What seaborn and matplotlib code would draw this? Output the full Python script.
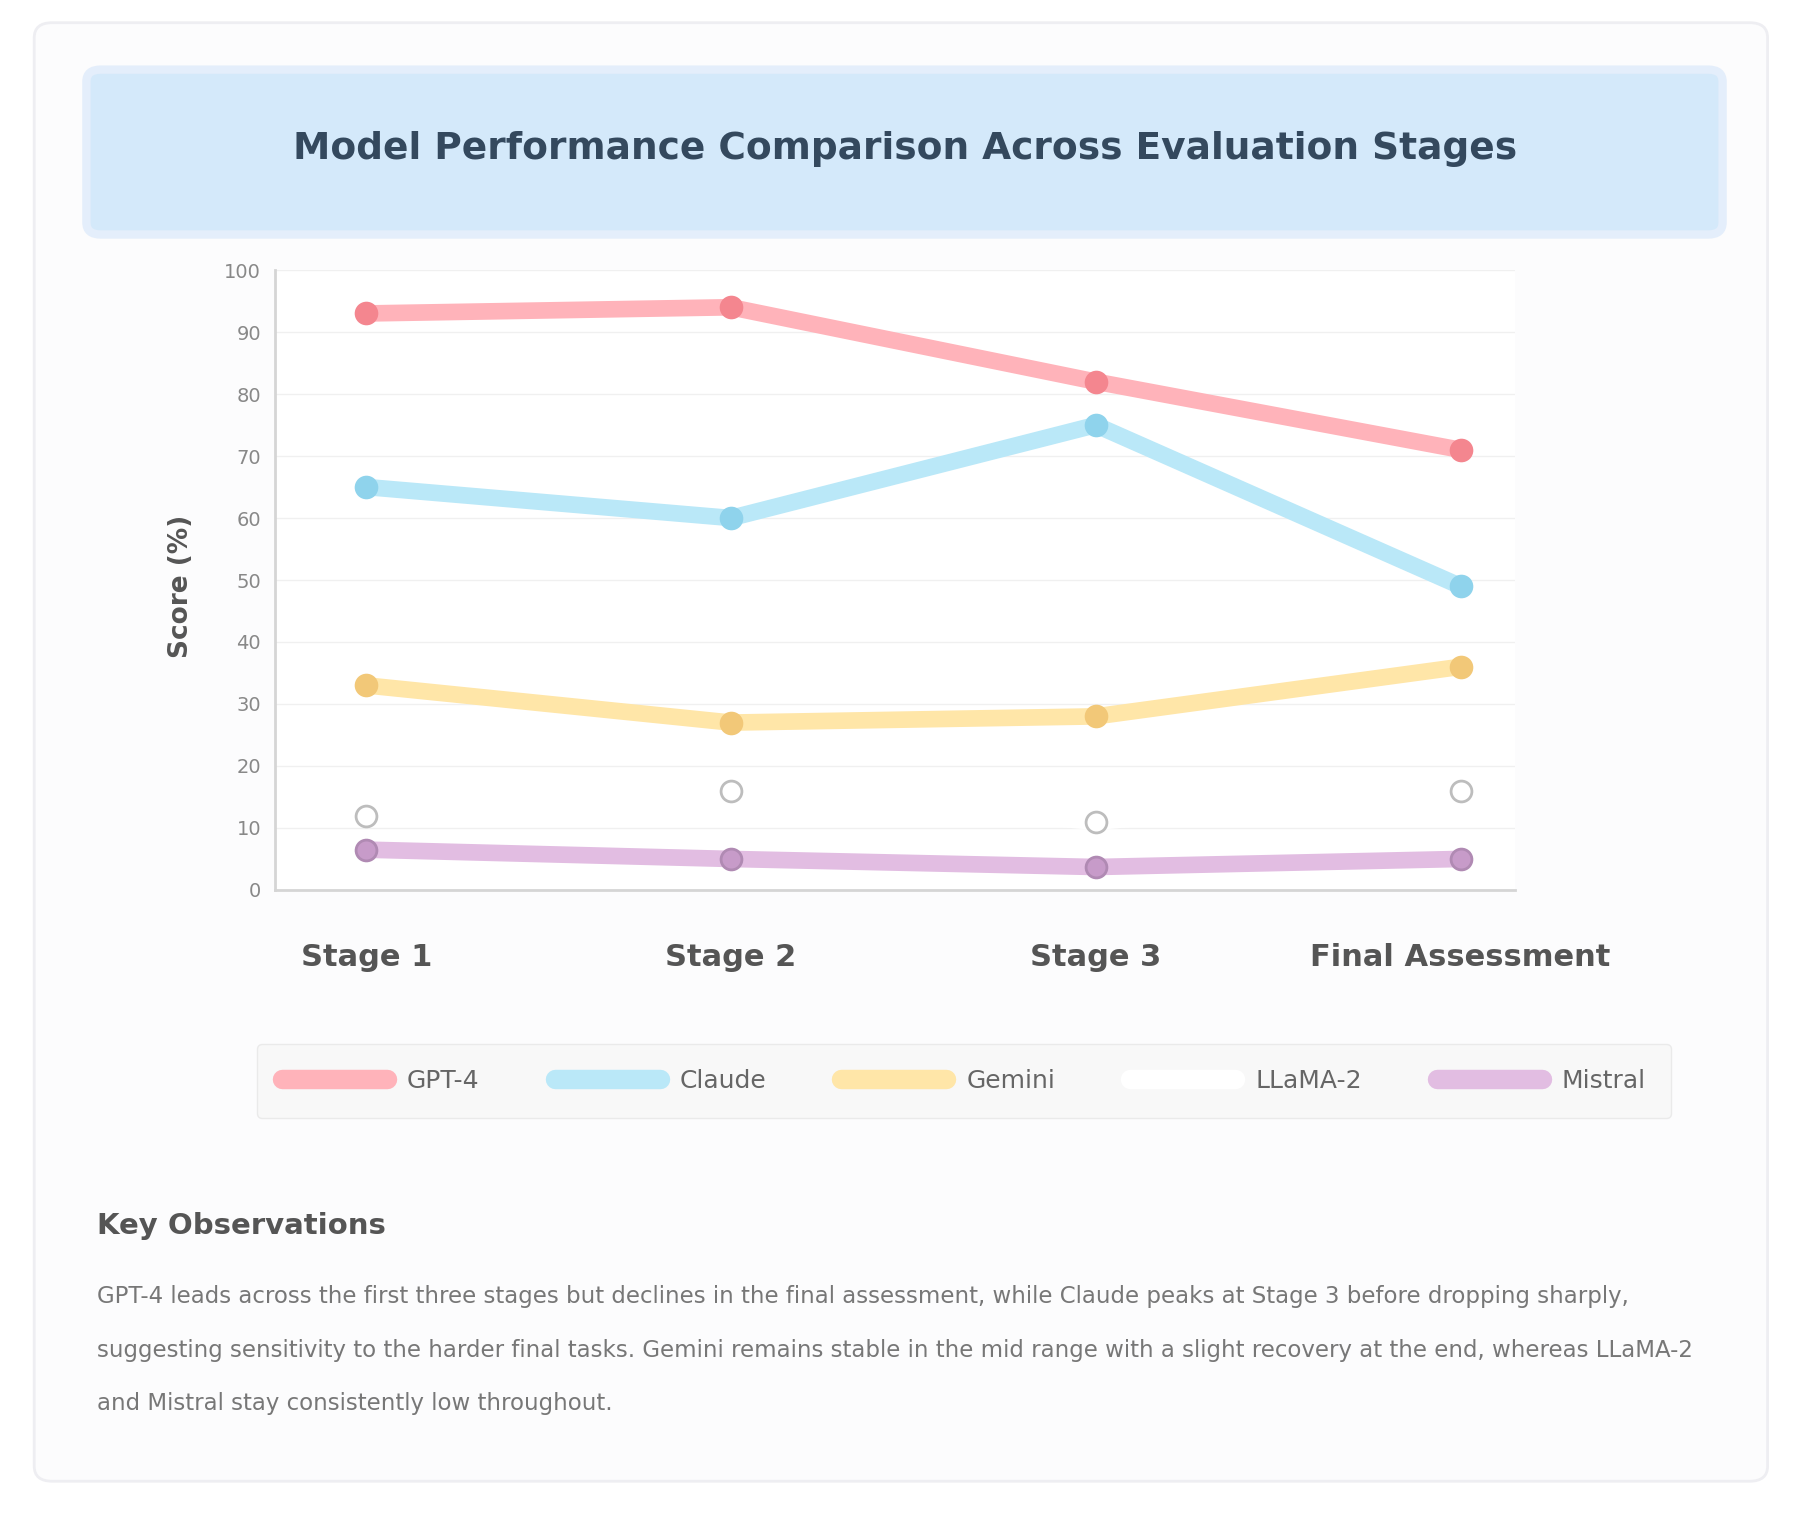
import numpy as np
import pandas as pd
import matplotlib.pyplot as plt
import seaborn as sns
from matplotlib.patches import FancyBboxPatch
from matplotlib.lines import Line2D

# Chart data
stages = ["Stage 1", "Stage 2", "Stage 3", "Final Assessment"]
series_names = ["GPT-4", "Claude", "Gemini", "LLaMA-2", "Mistral"]
gpt4 = [93, 94, 82, 71]
claude = [65, 60, 75, 49]
gemini = [33, 27, 28, 36]
llama = [12, 16, 11, 16]
mistral = [6.5, 5, 3.7, 5]

line_colors = ["#FFB3BA", "#BAE8F8", "#FFE6A8", "#FFFFFF", "#E2BDE2"]
marker_colors = ["#F4868F", "#8FD3EC", "#F2C878", "#FFFFFF", "#C79BC9"]
marker_edges = ["#F4868F", "#8FD3EC", "#F2C878", "#BDBDBD", "#B08AB3"]

df = pd.DataFrame({
    "stage": stages * 5,
    "x": list(range(len(stages))) * 5,
    "model": np.repeat(series_names, len(stages)),
    "score": gpt4 + claude + gemini + llama + mistral,
})

sns.set_style("white")
plt.rcParams["font.family"] = ["DejaVu Sans"]

fig = plt.figure(figsize=(18, 15.13), dpi=100)
fig.patch.set_facecolor("white")

# outer card
fig.patches.append(FancyBboxPatch((0.019, 0.021), 0.963, 0.964,
                                  boxstyle="round,pad=0,rounding_size=0.01",
                                  transform=fig.transFigure, facecolor="#FCFCFD",
                                  edgecolor="#EEEEF2", lw=2, zorder=0))
# title banner
fig.patches.append(FancyBboxPatch((0.048, 0.845), 0.909, 0.109,
                                  boxstyle="round,pad=0,rounding_size=0.008",
                                  transform=fig.transFigure, facecolor="#D4E9FA",
                                  edgecolor="#E4EEFB", lw=6, zorder=1))
fig.text(0.503, 0.9015, "Model Performance Comparison Across Evaluation Stages",
         ha="center", va="center", fontsize=27, fontweight="bold", color="#34495E")

ax = fig.add_axes([0.1528, 0.4118, 0.689, 0.4097])
ax.set_zorder(5)
ax.set_facecolor("white")

for i, name in enumerate(series_names):
    sub = df[df["model"] == name]
    sns.lineplot(data=sub, x="x", y="score", ax=ax, color=line_colors[i], lw=12,
                 marker="o", markersize=15, markerfacecolor=marker_colors[i],
                 markeredgecolor=marker_edges[i], markeredgewidth=2,
                 solid_capstyle="round", legend=False, zorder=3 + i)

ax.set_xlim(-0.25, 3.15)
ax.set_ylim(0, 100)
ax.set_yticks(range(0, 101, 10))
ax.set_xticks(range(len(stages)))
ax.set_xticklabels(stages, fontsize=22, fontweight="bold", color="#555555")
ax.tick_params(axis="x", pad=38, length=0)
ax.tick_params(axis="y", labelsize=14, labelcolor="#888888", length=0, pad=10)
ax.set_xlabel("")
ax.set_ylabel("Score (%)", fontsize=19, fontweight="bold", color="#555555")
ax.yaxis.set_label_coords(-0.065, 0.49)
ax.grid(axis="y", color="#F0F0F0", lw=1)
for side in ["top", "right"]:
    ax.spines[side].set_visible(False)
for side in ["left", "bottom"]:
    ax.spines[side].set_color("#D5D5D5")
    ax.spines[side].set_linewidth(2)

handles = [Line2D([0], [0], color=line_colors[i], lw=14) for i in range(len(series_names))]
leg = fig.legend(handles, series_names, loc="center", bbox_to_anchor=(0.5356, 0.2855),
                 ncol=5, fontsize=18, frameon=True, handlelength=4.2, columnspacing=3.0,
                 borderpad=1.0, labelcolor="#666666")
leg.get_frame().set_facecolor("#F7F7F7")
leg.get_frame().set_edgecolor("#E6E6E6")
leg.set_zorder(6)

fig.text(0.054, 0.1897, "Key Observations", fontsize=21, fontweight="bold",
         color="#555555", va="center")
notes = [
    "GPT-4 leads across the first three stages but declines in the final assessment, while Claude peaks at Stage 3 before dropping sharply,",
    "suggesting sensitivity to the harder final tasks. Gemini remains stable in the mid range with a slight recovery at the end, whereas LLaMA-2",
    "and Mistral stay consistently low throughout.",
]
for k, line in enumerate(notes):
    fig.text(0.054, 0.1428 - k * 0.0352, line, fontsize=16.5, color="#777777", va="center")

fig.savefig("out.png", dpi=100, facecolor=fig.get_facecolor())
